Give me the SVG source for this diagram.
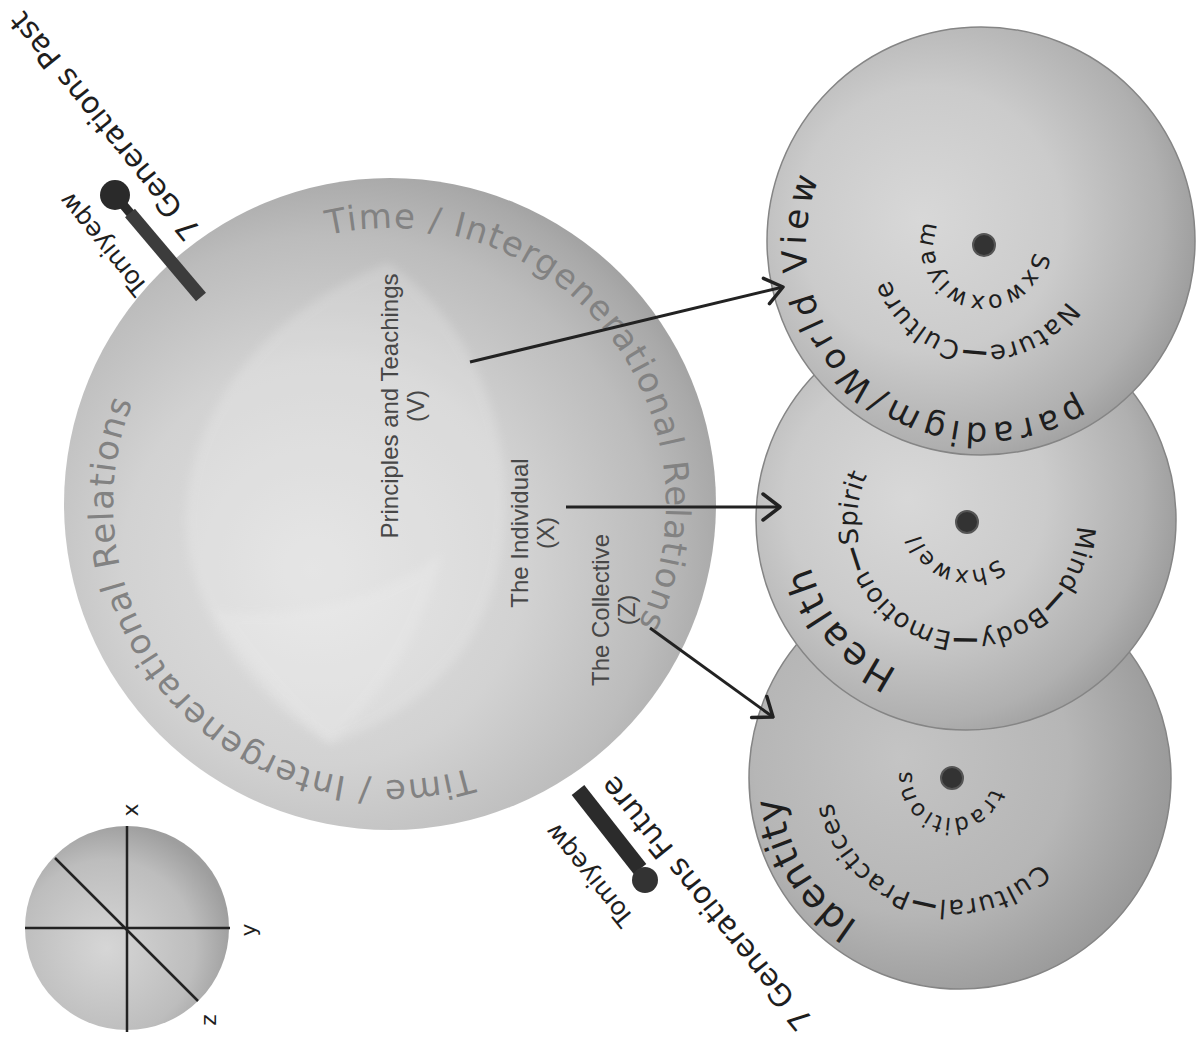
<svg xmlns="http://www.w3.org/2000/svg" width="1198" height="1046" viewBox="0 0 1198 1046">
<style>
.arcBig{font-family:"DejaVu Sans",sans-serif;font-size:34px;fill:#828282;letter-spacing:1.3px}
.blk{font-family:"DejaVu Sans",sans-serif;fill:#1e1e1e}
.lbl{font-family:"Liberation Sans",Arial,sans-serif;font-size:24px;fill:#474747;text-anchor:middle}
.conn{stroke:#222;stroke-width:3;fill:none;marker-end:url(#arr)}
.edge{stroke:#858585;stroke-width:1.5}
.axis{stroke:#222;stroke-width:2.5}
.dot{fill:#333;stroke:#555;stroke-width:2}
</style>
<defs>
<radialGradient id="gBig" cx="0.42" cy="0.58" r="0.62" fx="0.38" fy="0.6">
<stop offset="0" stop-color="#e0e0e0"/><stop offset="0.5" stop-color="#d2d2d2"/><stop offset="0.8" stop-color="#bcbcbc"/><stop offset="0.95" stop-color="#a9a9a9"/><stop offset="1" stop-color="#a0a0a0"/>
</radialGradient>
<radialGradient id="gSmall" cx="0.4" cy="0.45" r="0.62" fx="0.36" fy="0.45">
<stop offset="0" stop-color="#d8d8d8"/><stop offset="0.5" stop-color="#cbcbcb"/><stop offset="0.85" stop-color="#b0b0b0"/><stop offset="1" stop-color="#9c9c9c"/>
</radialGradient>
<radialGradient id="gId" cx="0.4" cy="0.45" r="0.62" fx="0.36" fy="0.45">
<stop offset="0" stop-color="#c4c4c4"/><stop offset="0.6" stop-color="#b6b6b6"/><stop offset="1" stop-color="#989898"/>
</radialGradient>
<radialGradient id="gLeg" cx="0.4" cy="0.6" r="0.62">
<stop offset="0" stop-color="#d6d6d6"/><stop offset="0.7" stop-color="#bdbdbd"/><stop offset="1" stop-color="#9e9e9e"/>
</radialGradient>
<filter id="soft" x="-20%" y="-20%" width="140%" height="140%"><feGaussianBlur stdDeviation="5"/></filter>
<marker id="arr" markerUnits="userSpaceOnUse" markerWidth="22" markerHeight="32" viewBox="0 0 22 32" refX="20" refY="16" orient="auto">
<path d="M3,3 L20,16 L3,29" fill="none" stroke="#222" stroke-width="3.5" stroke-linecap="round" stroke-linejoin="round"/>
</marker>
<path id="pBigU" d="M327.91,235.07 A276,276 0 1 1 452.09,772.93 A276,276 0 1 1 327.91,235.07"/>
<path id="pBigL" d="M470.69,767.94 A276,276 0 1 1 309.31,240.06 A276,276 0 1 1 470.69,767.94"/>
<path id="pPar1" d="M1078.33,395.95 A178,178 0 1 1 889.67,94.05 A178,178 0 1 1 1078.33,395.95"/>
<path id="pPar2" d="M1066.90,300.92 A100,100 0 1 1 901.10,189.08 A100,100 0 1 1 1066.90,300.92"/>
<path id="pPar3" d="M1033.51,251.96 A50,50 0 1 1 934.49,238.04 A50,50 0 1 1 1033.51,251.96"/>
<path id="pHea1" d="M898.11,669.73 A163,163 0 1 1 1035.89,374.27 A163,163 0 1 1 898.11,669.73"/>
<path id="pHea2" d="M1076.93,525.84 A110,110 0 1 1 857.07,518.16 A110,110 0 1 1 1076.93,525.84"/>
<path id="pHea3" d="M998.49,558.23 A48,48 0 1 1 935.51,485.77 A48,48 0 1 1 998.49,558.23"/>
<path id="pIde1" d="M858.32,922.25 A172,172 0 1 1 1045.68,633.75 A172,172 0 1 1 858.32,922.25"/>
<path id="pIde2" d="M1039.76,862.75 A122,122 0 1 1 864.24,693.25 A122,122 0 1 1 1039.76,862.75"/>
<path id="pIde3" d="M990.64,788.35 A40,40 0 1 1 913.36,767.65 A40,40 0 1 1 990.64,788.35"/>
</defs>
<rect width="1198" height="1046" fill="#ffffff"/>

<g id="main-circle">
<circle cx="390" cy="504" r="326" fill="url(#gBig)"/>
<path d="M388,263 C470,320 510,420 505,520 C500,620 450,700 330,745 C260,700 210,640 190,560 C170,470 220,330 388,263 Z" fill="#ffffff" opacity="0.18" filter="url(#soft)"/>
<path d="M214,611 C260,680 300,720 330,742 C380,700 420,640 442,553 C380,600 300,620 214,611 Z" fill="#ffffff" opacity="0.14" filter="url(#soft)"/>
<text class="arcBig"><textPath href="#pBigU">Time / Intergenerational Relations</textPath></text>
<text class="arcBig"><textPath href="#pBigL">Time / Intergenerational Relations</textPath></text>
<text class="lbl" transform="translate(398,406) rotate(-90)">Principles and Teachings<tspan x="0" dy="26">(V)</tspan></text>
<text class="lbl" transform="translate(528,533) rotate(-90)">The Individual<tspan x="0" dy="26">(X)</tspan></text>
<text class="lbl" transform="translate(609,610) rotate(-90)">The Collective<tspan x="0" dy="26">(Z)</tspan></text>
</g>

<g id="tomiyeqw-past">
<line x1="115" y1="195" x2="136" y2="220" stroke="#2a2a2a" stroke-width="9"/>
<line x1="130" y1="213" x2="201" y2="297" stroke="#3c3c3c" stroke-width="13"/>
<circle cx="115" cy="195" r="15" fill="#2a2a2a"/>
<text class="blk" font-size="25" transform="translate(149,287) rotate(231)">Tomiyeqw</text>
<text class="blk" font-size="30" transform="translate(202,230) rotate(231)">7 Generations Past</text>
</g>

<g id="tomiyeqw-future">
<line x1="578" y1="790" x2="640" y2="869" stroke="#2b2b2b" stroke-width="16"/>
<circle cx="645" cy="880" r="13" fill="#333"/>
<text class="blk" font-size="25" transform="translate(635,918) rotate(231)">Tomiyeqw</text>
<text class="blk" font-size="30" transform="translate(814,1020) rotate(231)">7 Generations Future</text>
</g>

<g id="identity">
<circle cx="960" cy="778" r="211" fill="url(#gId)" class="edge"/>
<circle cx="952" cy="778" r="11" class="dot"/>
<text class="blk" font-size="38" style="letter-spacing:0.9px"><textPath href="#pIde1">Identity</textPath></text>
<text class="blk" font-size="26" style="letter-spacing:1.1px"><textPath href="#pIde2">Cultural<tspan font-weight="bold">—</tspan>Practices</textPath></text>
<text class="blk" font-size="23" style="letter-spacing:1.3px"><textPath href="#pIde3">traditions</textPath></text>
</g>

<g id="health">
<circle cx="966" cy="520" r="210" fill="url(#gSmall)" class="edge"/>
<circle cx="967" cy="522" r="11" class="dot"/>
<text class="blk" font-size="38" style="letter-spacing:3px"><textPath href="#pHea1">Health</textPath></text>
<text class="blk" font-size="26" style="letter-spacing:0.4px"><textPath href="#pHea2">Mind<tspan font-weight="bold">—</tspan>Body<tspan font-weight="bold">—</tspan>Emotion<tspan font-weight="bold">—</tspan>Spirit</textPath></text>
<text class="blk" font-size="23" style="letter-spacing:1.4px"><textPath href="#pHea3">Shxwell</textPath></text>
</g>

<g id="paradigm">
<circle cx="981" cy="241" r="214" fill="url(#gSmall)" class="edge"/>
<circle cx="984" cy="245" r="11" class="dot"/>
<text class="blk" font-size="34" style="letter-spacing:4.6px"><textPath href="#pPar1">paradigm/World View</textPath></text>
<text class="blk" font-size="26" style="letter-spacing:0.9px"><textPath href="#pPar2">Nature<tspan font-weight="bold">—</tspan>Culture</textPath></text>
<text class="blk" font-size="24" style="letter-spacing:1.8px"><textPath href="#pPar3">Sxwoxwiyam</textPath></text>
</g>

<g id="connectors">
<line class="conn" x1="470" y1="362" x2="783" y2="287"/>
<line class="conn" x1="566" y1="507" x2="780" y2="507"/>
<line class="conn" x1="650" y1="628" x2="773" y2="717"/>
</g>

<g id="axes-legend">
<circle cx="127" cy="928" r="102" fill="url(#gLeg)"/>
<line class="axis" x1="127" y1="826" x2="127" y2="1032"/>
<line class="axis" x1="25" y1="928" x2="230" y2="928"/>
<line class="axis" x1="55" y1="858" x2="198" y2="1001"/>
<text class="blk" font-size="22" text-anchor="middle" dominant-baseline="central" transform="translate(130,810) rotate(-90)">x</text>
<text class="blk" font-size="22" text-anchor="middle" dominant-baseline="central" transform="translate(248,930) rotate(-90)">y</text>
<text class="blk" font-size="22" text-anchor="middle" dominant-baseline="central" transform="translate(208,1020) rotate(-90)">z</text>
</g>
</svg>
